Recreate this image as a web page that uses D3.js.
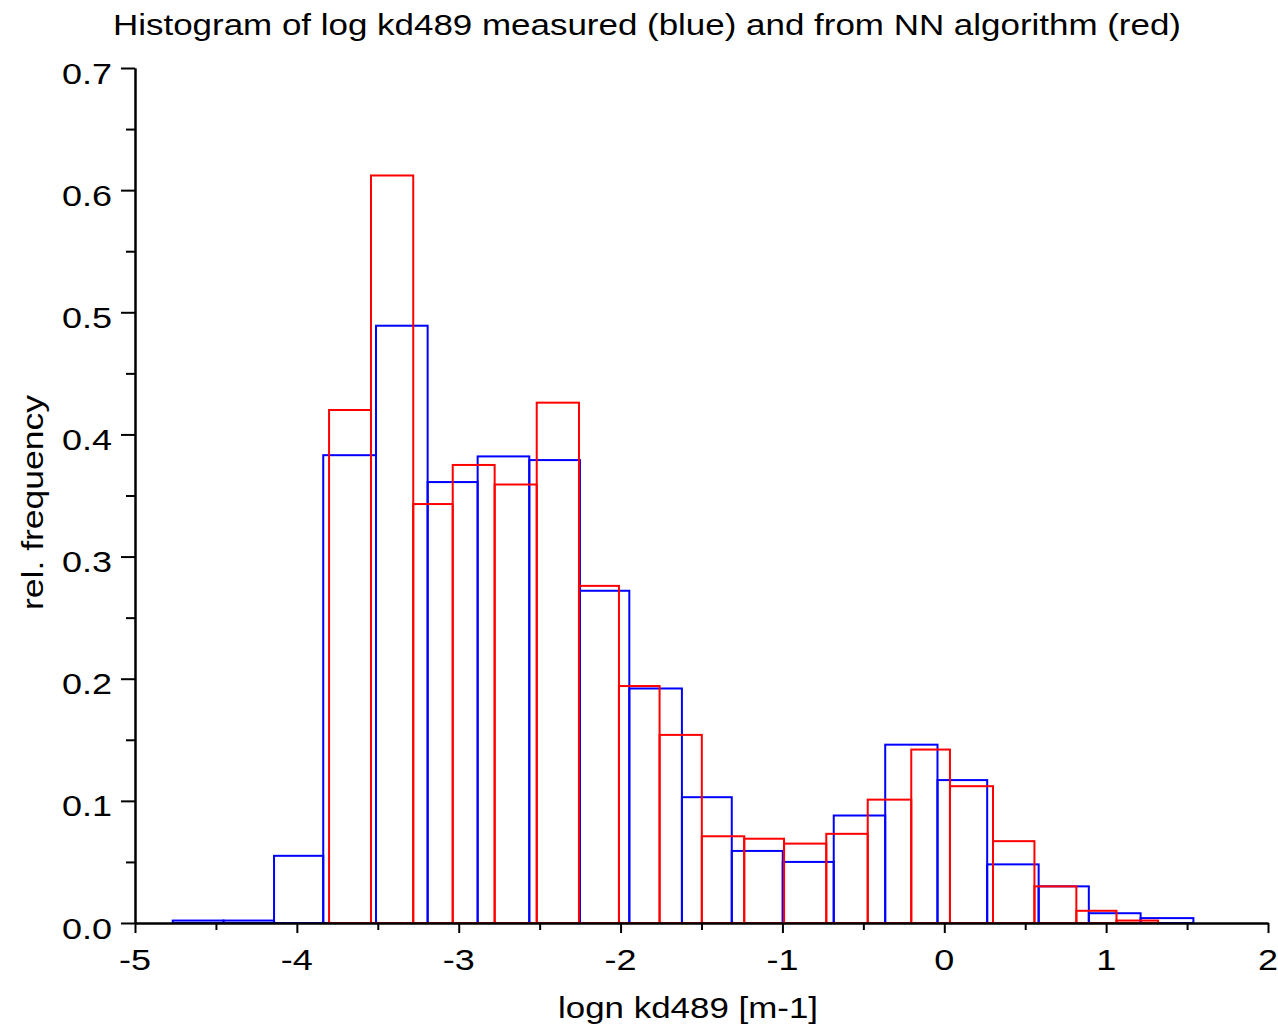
<!DOCTYPE html>
<html>
<head>
<meta charset="utf-8">
<script src="https://cdn.jsdelivr.net/npm/d3@7"></script>
<style>
  html, body { margin: 0; padding: 0; background: #fff; }
  svg { display: block; }
  text { font-family: "Liberation Sans", Arial, sans-serif; fill: #000; }
</style>
</head>
<body>
<svg id="chart" width="1278" height="1029"></svg>
<script>
// ---- data ----
const blueEdges = [-4.767, -4.453, -4.141, -3.837, -3.511, -3.192, -2.883, -2.564, -2.251, -1.946,
                   -1.621, -1.313, -0.998, -0.683, -0.365, -0.042, 0.265, 0.583, 0.893, 1.213, 1.539];
const blueFreq  = [0.002, 0.002, 0.055, 0.383, 0.489, 0.361, 0.382, 0.379, 0.272, 0.192,
                   0.103, 0.059, 0.050, 0.088, 0.146, 0.117, 0.048, 0.030, 0.008, 0.004];
const redEdges  = [-3.801, -3.542, -3.281, -3.037, -2.778, -2.518, -2.257, -2.010, -1.759, -1.498,
                   -1.236, -0.990, -0.729, -0.473, -0.204, 0.035, 0.301, 0.557, 0.816, 1.064, 1.321];
const redFreq   = [0.420, 0.612, 0.343, 0.375, 0.359, 0.426, 0.276, 0.194, 0.154, 0.071,
                   0.069, 0.065, 0.073, 0.101, 0.142, 0.112, 0.067, 0.030, 0.010, 0.002];
const xTicks = [-5, -4, -3, -2, -1, 0, 1, 2];
const xTickLabels = ["-5", "-4", "-3", "-2", "-1", "0", "1", "2"];
const xMinorTicks = [-4.5, -3.5, -2.5, -1.5, -0.5, 0.5, 1.5];
const yTicks = [0, 0.1, 0.2, 0.3, 0.4, 0.5, 0.6, 0.7];
const yTickLabels = ["0.0", "0.1", "0.2", "0.3", "0.4", "0.5", "0.6", "0.7"];
const yMinorTicks = [0.05, 0.15, 0.25, 0.35, 0.45, 0.55, 0.65];
const titleText = "Histogram of log kd489 measured (blue) and from NN algorithm (red)";
const xLabelText = "logn kd489 [m-1]";
const yLabelText = "rel. frequency";

// ---- layout ----
const svg = d3.select("#chart");
const x = d3.scaleLinear().domain([-5, 2]).range([135, 1268]);
const y = d3.scaleLinear().domain([0, 0.7]).range([923, 68]);
const FS = 30, SX = 1.2;

function bins(edges, freq) {
  return freq.map((f, i) => ({ x0: edges[i], x1: edges[i + 1], f }));
}

// histograms
[[bins(blueEdges, blueFreq), "#0000ff"], [bins(redEdges, redFreq), "#ff0000"]].forEach(([data, col]) => {
  svg.append("g").selectAll("rect").data(data).join("rect")
    .attr("x", d => x(d.x0))
    .attr("y", d => y(d.f))
    .attr("width", d => x(d.x1) - x(d.x0))
    .attr("height", d => y(0) - y(d.f))
    .attr("fill", "none")
    .attr("stroke", col)
    .attr("stroke-width", 2);
});

// axes
function styleAxis(g) {
  g.selectAll("path, line").attr("stroke", "#000").attr("stroke-width", 2);
  g.selectAll("text").remove();
}
svg.append("g").attr("transform", `translate(0,${y(0)})`)
  .call(d3.axisBottom(x).tickValues(xTicks).tickSize(10).tickSizeOuter(0)).call(styleAxis);
svg.append("g").attr("transform", `translate(0,${y(0)})`)
  .call(d3.axisBottom(x).tickValues(xMinorTicks).tickSize(7).tickSizeOuter(0)).call(styleAxis);
svg.append("g").attr("transform", `translate(${x(-5)},0)`)
  .call(d3.axisLeft(y).tickValues(yTicks).tickSize(14).tickSizeOuter(0)).call(styleAxis);
svg.append("g").attr("transform", `translate(${x(-5)},0)`)
  .call(d3.axisLeft(y).tickValues(yMinorTicks).tickSize(9).tickSizeOuter(0)).call(styleAxis);

// tick labels
svg.append("g").selectAll("text").data(xTicks).join("text")
  .attr("transform", d => `translate(${x(d)},${y(0) + 47}) scale(${SX},1)`)
  .attr("text-anchor", "middle").attr("font-size", FS)
  .text((d, i) => xTickLabels[i]);
svg.append("g").selectAll("text").data(yTicks).join("text")
  .attr("transform", d => `translate(112,${y(d) + 15.5}) scale(${SX},1)`)
  .attr("text-anchor", "end").attr("font-size", FS)
  .text((d, i) => yTickLabels[i]);

// title and axis labels
svg.append("text").attr("x", 113).attr("y", 35).attr("font-size", FS)
  .attr("textLength", 1068).attr("lengthAdjust", "spacingAndGlyphs").text(titleText);
svg.append("text").attr("x", 558).attr("y", 1018).attr("font-size", FS)
  .attr("textLength", 260).attr("lengthAdjust", "spacingAndGlyphs").text(xLabelText);
svg.append("text").attr("transform", "translate(43,610) rotate(-90)").attr("font-size", FS)
  .attr("textLength", 215).attr("lengthAdjust", "spacingAndGlyphs").text(yLabelText);
</script>
</body>
</html>
